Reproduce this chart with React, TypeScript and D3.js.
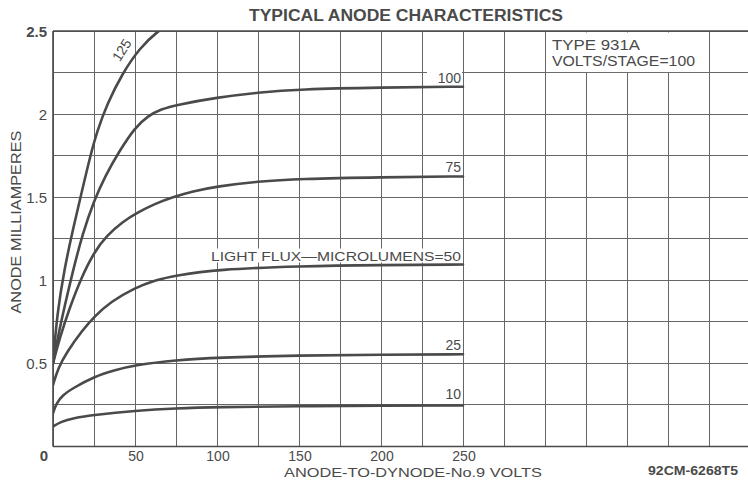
import React from "react";
import * as d3 from "d3";

const W = 748;
const H = 480;

const xTicks = [0, 50, 100, 150, 200, 250];
const yTicks = [0.5, 1, 1.5, 2, 2.5];
const xGrid = d3.range(0, 426, 25);
const yGrid = d3.range(0, 2.51, 0.25);

const curve10: [number, number][] = [[0, 0.12], [5, 0.15], [12, 0.17], [25, 0.19], [50, 0.215], [75, 0.23], [100, 0.237], [150, 0.243], [200, 0.246], [250, 0.247]];
const curve25: [number, number][] = [[0, 0.2], [2, 0.26], [6, 0.31], [12, 0.35], [25, 0.42], [38, 0.46], [50, 0.49], [75, 0.52], [100, 0.535], [150, 0.548], [200, 0.552], [250, 0.555]];
const curve50: [number, number][] = [[0, 0.37], [3, 0.47], [8.5, 0.57], [18, 0.7], [25, 0.78], [35, 0.87], [50, 0.955], [62, 1.0], [75, 1.03], [100, 1.065], [150, 1.085], [200, 1.092], [250, 1.095]];
const curve75: [number, number][] = [[0, 0.5], [4, 0.65], [10, 0.83], [17, 1.01], [25, 1.17], [33, 1.27], [42, 1.35], [52, 1.41], [62, 1.46], [73, 1.5], [85, 1.535], [100, 1.565], [125, 1.595], [150, 1.61], [200, 1.62], [250, 1.625]];
const curve100: [number, number][] = [[0, 0.5], [3, 0.66], [7, 0.84], [12, 1.05], [18, 1.28], [25, 1.48], [32, 1.63], [40, 1.77], [50, 1.92], [58, 1.99], [66, 2.03], [75, 2.055], [100, 2.1], [125, 2.13], [150, 2.15], [200, 2.16], [250, 2.165]];
const curve125: [number, number][] = [[0, 0.5], [2.5, 0.8], [7, 1.07], [12, 1.3], [17.5, 1.53], [22.5, 1.74], [27, 1.9], [33, 2.06], [42, 2.24], [53, 2.4], [64, 2.5], [72, 2.55]];

const curves = [curve10, curve25, curve50, curve75, curve100, curve125];
const curveLabels = ["10", "25", "LIGHT FLUX\u2014MICROLUMENS=50", "75", "100", "125"];

const title = "TYPICAL ANODE CHARACTERISTICS";
const xTitle = "ANODE-TO-DYNODE-No.9 VOLTS";
const yTitle = "ANODE MILLIAMPERES";
const figNo = "92CM-6268T5";
const noteLines = ["TYPE 931A", "VOLTS/STAGE=100"];

const INK = "#4a4a4a";
const GRID = "#666";
const FONT = "'Liberation Sans', Arial, sans-serif";

export default function App() {
  const x = d3.scaleLinear().domain([0, 425]).range([53, 750]);
  const y = d3.scaleLinear().domain([0, 2.5]).range([446.5, 31]);
  const line = d3
    .line<[number, number]>()
    .x((d) => x(d[0]))
    .y((d) => y(d[1]))
    .curve(d3.curveBasis);

  const x0 = x(0), x1 = x(425), yTop = y(2.5), yBot = y(0);
  const label100 = curve100[curve100.length - 1];
  const label50 = curve50[curve50.length - 1];

  return (
    <svg width={W} height={H} style={{ position: "absolute", left: 0, top: 0, background: "#fff" }} fontFamily={FONT}>
      <defs>
        <clipPath id="plot">
          <rect x={x0} y={yTop} width={x1 - x0} height={yBot - yTop} />
        </clipPath>
      </defs>
      <rect width={W} height={H} fill="#fff" />
      {/* grid */}
      <g stroke={GRID} strokeWidth={1} shapeRendering="crispEdges">
        {xGrid.map((v) => (
          <line key={"gx" + v} x1={x(v)} x2={x(v)} y1={yTop} y2={yBot} />
        ))}
        {yGrid.map((v) => (
          <line key={"gy" + v} x1={x0} x2={x1} y1={y(v)} y2={y(v)} />
        ))}
      </g>
      {/* white note box and label backgrounds */}
      <rect x={x(300) + 1} y={yTop + 1.5} width={x(400) - x(300) - 2} height={y(2.25) - yTop - 2} fill="#fff" />
      <rect x={x(250) - 36} y={y(label100[1]) - 16} width={35} height={12} fill="#fff" />
      <rect x={x(250) - 253} y={y(label50[1]) - 16} width={252} height={14} fill="#fff" />
      {/* frame */}
      <g stroke={INK} strokeWidth={1.6} fill="none">
        <line x1={x0} x2={x1} y1={yTop} y2={yTop} />
        <line x1={x0} x2={x1} y1={yBot} y2={yBot} />
        <line x1={x0} x2={x0} y1={yTop} y2={yBot} />
      </g>
      {/* curves */}
      <g clipPath="url(#plot)" fill="none" stroke={INK} strokeWidth={2.6} strokeLinecap="round">
        {curves.map((c, i) => (
          <path key={"c" + i} d={line(c) || ""} />
        ))}
      </g>
      {/* curve labels */}
      <g fill={INK} fontSize={14} textAnchor="end">
        {curves.slice(0, 5).map((c, i) => {
          const last = c[c.length - 1];
          const isLong = i === 2;
          return (
            <text
              key={"l" + i}
              x={x(250) - 2}
              y={y(last[1]) - (i === 0 ? 6 : 4)}
              textLength={isLong ? 250 : undefined}
              lengthAdjust="spacingAndGlyphs"
              fontSize={isLong ? 13.5 : 14}
            >
              {curveLabels[i]}
            </text>
          );
        })}
        <text
          x={x(46)}
          y={y(2.36)}
          textAnchor="middle"
          fontSize={14}
          transform={`rotate(-58, ${x(46)}, ${y(2.36)})`}
          dy={-3}
        >
          {curveLabels[5]}
        </text>
      </g>
      {/* note */}
      <g fill={INK} fontSize={14}>
        {noteLines.map((t, i) => (
          <text key={"n" + i} x={x(300) + 7} y={y(2.5) + 19 + i * 16} textLength={i === 0 ? 88 : 143} lengthAdjust="spacingAndGlyphs">
            {t}
          </text>
        ))}
      </g>
      {/* y ticks */}
      <g fill={INK} fontSize={15} textAnchor="end">
        {yTicks.map((v) => (
          <text key={"yt" + v} x={47} y={y(v)} dy="0.4em" fontWeight={v === 2.5 ? 700 : 400}>
            {String(v)}
          </text>
        ))}
      </g>
      {/* x ticks */}
      <g fill={INK} fontSize={14} textAnchor="middle">
        {xTicks.map((v) => (
          <text key={"xt" + v} x={v === 0 ? 44 : x(v) + 1} y={461} fontWeight={v === 0 ? 700 : 400} fontSize={v === 0 ? 15 : 14}>
            {String(v)}
          </text>
        ))}
      </g>
      {/* titles */}
      <text x={406} y={21} textAnchor="middle" fill={INK} fontSize={16} fontWeight={700} textLength={314} lengthAdjust="spacingAndGlyphs">
        {title}
      </text>
      <text x={413} y={477} textAnchor="middle" fill={INK} fontSize={13.5} textLength={258} lengthAdjust="spacingAndGlyphs">
        {xTitle}
      </text>
      <text x={693} y={475} textAnchor="middle" fill={INK} fontSize={13} fontWeight={700} textLength={90} lengthAdjust="spacingAndGlyphs">
        {figNo}
      </text>
      <text
        x={0}
        y={0}
        transform="translate(21, 222) rotate(-90)"
        textAnchor="middle"
        fill={INK}
        fontSize={15}
        textLength={183}
        lengthAdjust="spacingAndGlyphs"
      >
        {yTitle}
      </text>
    </svg>
  );
}
